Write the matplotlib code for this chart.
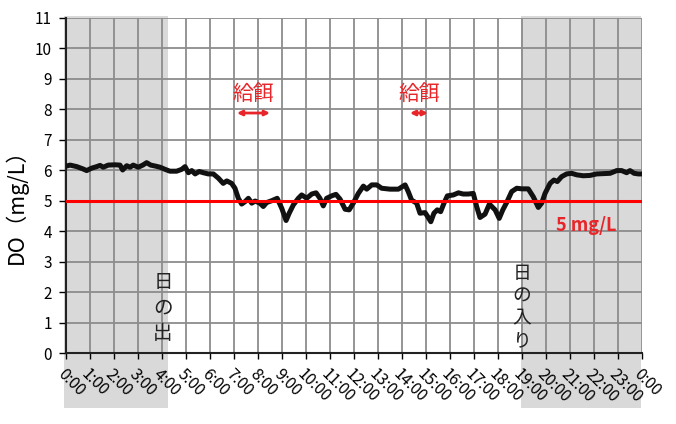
import matplotlib
matplotlib.use("Agg")
import matplotlib.pyplot as plt
from matplotlib.patches import Rectangle

plt.rcParams["font.family"] = ["Noto Sans CJK JP", "DejaVu Sans"]

# DO readings over one day (hour of day, mg/L)
hours = [
    0.03, 0.17, 0.45, 0.72, 0.86, 1.07, 1.28, 1.42, 1.55, 1.76, 2.04, 2.25,
    2.36, 2.53, 2.67, 2.80, 3.01, 3.20, 3.36, 3.53, 3.71, 3.92, 4.13, 4.33,
    4.61, 4.82, 4.96, 5.10, 5.24, 5.38, 5.55, 5.72, 5.93, 6.14, 6.35, 6.55,
    6.70, 6.90, 7.04, 7.18, 7.32, 7.46, 7.60, 7.74, 7.88, 8.08, 8.22, 8.36,
    8.57, 8.80, 8.99, 9.17, 9.30, 9.47, 9.68, 9.82, 10.03, 10.24, 10.42, 10.58,
    10.72, 10.86, 11.07, 11.25, 11.42, 11.63, 11.80, 11.97, 12.18, 12.39, 12.53, 12.74,
    12.95, 13.15, 13.50, 13.85, 14.13, 14.26, 14.40, 14.61, 14.75, 14.96, 15.07, 15.20,
    15.33, 15.47, 15.61, 15.75, 15.89, 16.14, 16.35, 16.55, 16.76, 16.97, 17.11, 17.25,
    17.46, 17.64, 17.88, 18.05, 18.20, 18.36, 18.57, 18.78, 18.99, 19.26, 19.47, 19.68,
    19.82, 19.96, 20.17, 20.33, 20.47, 20.65, 20.86, 21.07, 21.28, 21.55, 21.83, 22.11,
    22.39, 22.67, 22.95, 23.15, 23.36, 23.50, 23.67, 23.85, 23.95,
]
do_values = [
    6.14, 6.17, 6.12, 6.04, 5.99, 6.07, 6.12, 6.16, 6.10, 6.17, 6.18, 6.17,
    6.01, 6.15, 6.10, 6.17, 6.10, 6.17, 6.25, 6.17, 6.14, 6.10, 6.03, 5.97,
    5.97, 6.03, 6.12, 5.92, 5.99, 5.88, 5.96, 5.92, 5.88, 5.88, 5.74, 5.57,
    5.65, 5.57, 5.41, 5.08, 4.89, 4.97, 5.08, 4.92, 4.99, 4.92, 4.81, 4.94,
    5.00, 5.08, 4.75, 4.35, 4.59, 4.86, 5.08, 5.19, 5.08, 5.22, 5.26, 5.08,
    4.83, 5.08, 5.16, 5.21, 5.05, 4.72, 4.70, 4.92, 5.24, 5.48, 5.38, 5.52,
    5.52, 5.41, 5.38, 5.38, 5.52, 5.30, 5.02, 4.92, 4.59, 4.61, 4.48, 4.31,
    4.59, 4.70, 4.64, 4.92, 5.16, 5.19, 5.26, 5.22, 5.22, 5.24, 4.81, 4.45,
    4.56, 4.89, 4.70, 4.42, 4.70, 4.94, 5.30, 5.41, 5.39, 5.39, 5.13, 4.78,
    4.92, 5.24, 5.57, 5.68, 5.63, 5.79, 5.88, 5.90, 5.85, 5.82, 5.83, 5.88,
    5.89, 5.90, 5.99, 5.99, 5.92, 5.99, 5.90, 5.88, 5.88,
]

tick_hours = list(range(25))
tick_labels = [f"{h % 24}:00" for h in tick_hours]
threshold = 5
night_spans = [(-0.08, 4.25), (18.95, 23.96)]
feeding_spans = [(7.12, 8.5), (14.33, 15.08)]

fig = plt.figure(figsize=(6.76, 4.24), dpi=100)
ax = fig.add_axes([66 / 676, 71 / 424, 576 / 676, 335 / 424])

# night shading runs down behind the tick labels
for start, end in night_spans:
    ax.add_patch(Rectangle((start, -0.164), end - start, 1.17, transform=ax.get_xaxis_transform(),
                           facecolor="#d9d9d9", edgecolor="none", clip_on=False, zorder=0))

ax.set_axisbelow(True)
ax.grid(True, color="#8c8c8c", linewidth=1.3)
ax.plot(hours, do_values, color="#111111", linewidth=3.6, solid_joinstyle="round", zorder=4)
ax.axhline(threshold, color="#ff0000", linewidth=2.2, zorder=5)

ax.set_xlim(0, 24)
ax.set_ylim(0, 11)
ax.set_xticks(tick_hours)
ax.set_xticklabels(tick_labels, rotation=-45, ha="left", va="top", rotation_mode="anchor", fontsize=11.5)
ax.set_yticks(range(12))
ax.tick_params(axis="y", labelsize=11, length=5, width=1, pad=5)
ax.tick_params(axis="x", length=4, width=1, pad=5)
for side in ("top", "right"):
    ax.spines[side].set_visible(False)
for side in ("left", "bottom"):
    ax.spines[side].set_color("#222222")
    ax.spines[side].set_linewidth(1.5)
ax.set_ylabel("DO（mg/L）", fontsize=15.5)
ax.yaxis.set_label_coords(-0.066, 0.455)

ax.text(20.4, 4.2, "5 mg/L", color="#e8262a", fontsize=13, weight="bold", va="center", ha="left")
for start, end in feeding_spans:
    mid = (start + end) / 2
    ax.text(mid, 8.5, "給餌", color="#e8262a", fontsize=15, ha="center", va="center")
    ax.annotate("", xy=(start, 7.88), xytext=(end, 7.88),
                arrowprops=dict(arrowstyle="<|-|>", color="#e8262a", lw=2, mutation_scale=7,
                                shrinkA=0, shrinkB=0))

ax.text(4.04, 1.48, "日\nの\n出", fontsize=14, ha="center", va="center", linespacing=1.3, color="#222222")
ax.text(19.0, 1.51, "日\nの\n入\nり", fontsize=13.5, ha="center", va="center", linespacing=1.1, color="#222222")

fig.savefig("out.png", dpi=100)
